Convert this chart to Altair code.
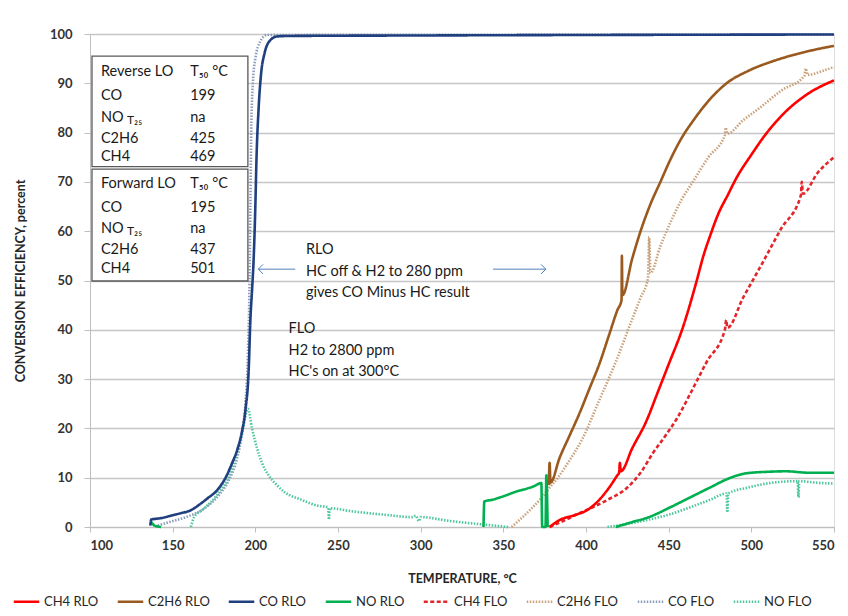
import altair as alt
import pandas as pd

# ---------------- data ----------------
SERIES = ["CH4 RLO", "C2H6 RLO", "CO RLO", "NO RLO", "CH4 FLO", "C2H6 FLO", "CO FLO", "NO FLO"]
COLORS = ["#FF0000", "#9A5A1F", "#1F3F7F", "#00B050", "#E3262B", "#C9A27C", "#8C9CBC", "#4FC79C"]
DASHES = [[1, 0], [1, 0], [1, 0], [1, 0], [4, 2.5], [1.5, 1.5], [1.5, 1.5], [1.5, 1.5]]
WIDTHS = [2.6, 2.6, 2.6, 2.6, 1.8, 1.2, 1.2, 1.2]

CO_RLO_T = [136.5, 137, 143, 150, 155, 161, 166, 171, 177, 182, 186, 189, 192, 194, 196, 197, 198, 199, 200, 200.7, 202, 203.5, 205.5, 208, 213, 220, 300, 400, 550]
CO_RLO_V = [0.3, 1.5, 1.8, 2.4, 2.8, 3.4, 4.5, 5.8, 7.5, 10, 13, 15.6, 19.5, 23.7, 32, 42, 48, 54.5, 65, 74.7, 85, 92, 96, 98.3, 99.5, 99.6, 99.7, 99.8, 99.9]

CO_FLO_T = [141, 148, 158, 168, 178, 184, 189, 192, 194, 195.5, 196.5, 197, 197.5, 198.5, 200, 203, 207, 550]
CO_FLO_V = [0.3, 1, 2, 3.5, 6.5, 9.5, 14, 19, 25, 35, 50, 65, 80, 90, 95, 98.5, 99.8, 99.9]

# None = no reading (line hidden on the axis there)
NO_RLO_T = [137, 139, 143, 200, 338, 338.5, 343, 348, 358, 368, 373, 373.5, 375.5, 376, 376.8, 400, 418, 428, 438, 451, 463, 475, 486, 497, 510, 521, 535, 550]
NO_RLO_V = [1, 0.3, 0, None, 0, 5.2, 5.5, 6, 7.2, 8.2, 8.9, 0, 0, 10.5, 0, None, 0, 1, 2, 4, 6, 8, 9.8, 10.9, 11.2, 11.3, 11, 11]

NO_FLO_T = [161, 163, 168, 173, 178, 183, 188, 192, 195.5, 198, 201, 204, 208, 213, 218, 228, 238, 244, 244.5, 245, 258, 278, 295, 297, 299, 300, 318, 338, 353, 380, 413, 428, 438, 450, 463, 475, 485, 485.5, 486, 498, 513, 528, 528.5, 529, 539, 550]
NO_FLO_V = [0, 2, 3.5, 5, 7, 9.5, 14, 19, 24, 20, 16, 13, 10.5, 8.5, 7, 5.5, 4.3, 4, 1.5, 3.8, 3.2, 2.5, 2, 2.3, 1.2, 2, 1.2, 0.5, 0, None, 0, 0.8, 1.5, 2.5, 4, 5.5, 6.8, 3, 6.8, 8, 9, 9.3, 6, 9.3, 9, 8.8]

C2H6_RLO_T = [377.5, 378, 378.5, 384, 390, 396, 402, 408, 414, 419, 421.5, 421.7, 422, 428, 433, 439, 445, 451, 458, 465, 473, 485, 498, 515, 533, 550]
C2H6_RLO_V = [8.5, 13, 9, 14, 18.5, 23, 28, 33, 39, 44, 46, 55, 47, 54.5, 60, 65.5, 70, 74.5, 79, 82.5, 86, 90, 92.5, 94.7, 96.4, 97.6]

C2H6_FLO_T = [355, 360, 366, 372, 378, 383, 390, 398, 408, 418, 426.6, 433, 437.5, 438.2, 439, 445, 450.7, 458, 464.6, 474, 484, 484.5, 485.5, 495, 505, 518, 532, 533, 534, 543, 550]
C2H6_FLO_V = [0, 1.5, 3.4, 5.5, 8, 10, 13.5, 18, 25.7, 33.5, 41, 46.5, 50.5, 58.8, 51.5, 57, 61.5, 66.5, 70, 75, 79.5, 81, 79.8, 82.5, 85, 88.5, 91.5, 93, 91.7, 92.5, 93.3]

CH4_RLO_T = [378, 384, 393, 400.6, 408, 414, 419, 420, 420.5, 421, 428, 436.8, 443, 450, 458.6, 467, 471, 475, 480, 486, 491, 500, 509, 520, 533, 550]
CH4_RLO_V = [0, 1.4, 2.4, 3.4, 5.5, 8, 10.5, 11, 13, 11.3, 16, 21.7, 27, 33, 40.5, 50, 55, 59, 63.5, 67.5, 70.8, 75.5, 79.8, 84, 87.6, 90.6]

CH4_FLO_T = [378, 388, 396, 404, 413, 425, 433, 440.5, 448, 455, 463, 473, 484, 484.8, 485.5, 495, 505, 518, 530, 530.5, 531.2, 540, 550]
CH4_FLO_V = [0, 1.5, 2.8, 4, 5.5, 8, 11, 15, 18.5, 22, 27, 33.5, 40, 42, 40.4, 46.5, 52.5, 60.5, 67.3, 70, 67.6, 71.8, 75]

X_TICKS = [100, 150, 200, 250, 300, 350, 400, 450, 500, 550]
Y_TICKS = [0, 10, 20, 30, 40, 50, 60, 70, 80, 90, 100]

# table boxes
BOX_T1 = [101.2, 101.2]
BOX_T2 = [195.5, 195.5]
BOX_V1 = [95.5, 72.6]
BOX_V2 = [73.1, 49.9]

TABLE_LABELS = ["Reverse LO", "CO", "NO", "C2H6", "CH4", "Forward LO", "CO", "NO", "C2H6", "CH4"]
TABLE_VALUES = ["T\u2085\u2080 \u00b0C", "199", "na", "425", "469", "T\u2085\u2080 \u00b0C", "195", "na", "437", "501"]
TABLE_ROWS_V = [92.3, 87.5, 83.0, 78.7, 75.0, 69.6, 64.8, 60.4, 56.2, 52.3]
TABLE_LABEL_T = 106.6
TABLE_VALUE_T = 160.6
SUB_TEXT = ["T\u2082\u2085", "T\u2082\u2085"]
SUB_T = [122.4, 122.4]
SUB_V = [82.6, 60.0]

NOTE_RLO = ["RLO", "HC off & H2 to 280 ppm", "gives CO Minus HC result"]
NOTE_RLO_V = [56.2, 51.7, 47.5]
NOTE_RLO_T = 230.6
NOTE_FLO = ["FLO", "H2 to 2800 ppm", "HC's on at 300\u00b0C"]
NOTE_FLO_V = [40.2, 35.7, 31.4]
NOTE_FLO_T = 220.1

ARROW_T = [224.1, 343.8]
ARROW_T2 = [201.8, 375.7]
ARROW_V = [52.3, 52.3]
ARROW_DIR = ["left", "right"]

FONT = "Lato"

# ---------------- build tables ----------------
series_data = {
    "CH4 FLO": (CH4_FLO_T, CH4_FLO_V),
    "C2H6 FLO": (C2H6_FLO_T, C2H6_FLO_V),
    "CO FLO": (CO_FLO_T, CO_FLO_V),
    "NO FLO": (NO_FLO_T, NO_FLO_V),
    "NO RLO": (NO_RLO_T, NO_RLO_V),
    "CH4 RLO": (CH4_RLO_T, CH4_RLO_V),
    "C2H6 RLO": (C2H6_RLO_T, C2H6_RLO_V),
    "CO RLO": (CO_RLO_T, CO_RLO_V),
}
rows = []
for name, (ts, vs) in series_data.items():
    for i, (t, v) in enumerate(zip(ts, vs)):
        rows.append({"series": name, "T": t, "V": v, "i": i})
df = pd.DataFrame(rows)

xscale = alt.Scale(domain=[100, 550], nice=False, zero=False)
yscale = alt.Scale(domain=[0, 100], nice=False)

x_enc = alt.X(
    "T:Q", scale=xscale,
    axis=alt.Axis(
        values=X_TICKS, format="d", grid=False, title="TEMPERATURE, \u00b0C",
        labelFont=FONT, labelFontSize=13, labelFontWeight="bold", labelColor="#333333",
        tickColor="#BFBFBF", tickSize=5, domainColor="#BFBFBF", labelPadding=7,
        titleFont=FONT, titleFontSize=12.5, titleFontWeight="bold", titleColor="#262626",
        titleX=372, titleY=51, titleBaseline="middle",
    ),
)
y_enc = alt.Y(
    "V:Q", scale=yscale,
    axis=alt.Axis(
        values=Y_TICKS, format="d", grid=True, gridColor="#C6C6C6", gridWidth=1.5,
        title="CONVERSION EFFICIENCY, percent",
        labelFont=FONT, labelFontSize=13, labelFontWeight="bold", labelColor="#333333",
        tickColor="#BFBFBF", tickSize=6, domainColor="#BFBFBF", labelPadding=12,
        titleFont=FONT, titleFontSize=12.5, titleFontWeight="bold", titleColor="#262626",
        titleX=-70, titleY=246.5, titleAngle=-90, titleBaseline="middle", titleAlign="center",
    ),
)

legend = alt.Legend(
    title=None, orient="none", legendX=-78, legendY=553, direction="horizontal",
    symbolType="stroke", symbolSize=650, labelFont=FONT, labelFontSize=13,
    labelColor="#262626", columnPadding=13, labelOffset=3,
)

lines = alt.Chart(df).mark_line(strokeJoin="round", interpolate="monotone").encode(
    x=x_enc,
    y=y_enc,
    color=alt.Color("series:N", scale=alt.Scale(domain=SERIES, range=COLORS), legend=legend),
    strokeDash=alt.StrokeDash("series:N", scale=alt.Scale(domain=SERIES, range=DASHES), legend=legend),
    strokeWidth=alt.StrokeWidth("series:N", scale=alt.Scale(domain=SERIES, range=WIDTHS), legend=legend),
    order=alt.Order("i:Q"),
)

box_df = pd.DataFrame({"t1": BOX_T1, "t2": BOX_T2, "v1": BOX_V1, "v2": BOX_V2})
boxes = alt.Chart(box_df).mark_rect(fill="white", stroke="#595959", strokeWidth=1.3).encode(
    x=alt.X("t1:Q", scale=xscale), x2="t2:Q", y=alt.Y("v1:Q", scale=yscale), y2="v2:Q"
)

lab_df = pd.DataFrame({"T": [TABLE_LABEL_T] * len(TABLE_LABELS), "V": TABLE_ROWS_V, "txt": TABLE_LABELS})
val_df = pd.DataFrame({"T": [TABLE_VALUE_T] * len(TABLE_VALUES), "V": TABLE_ROWS_V, "txt": TABLE_VALUES})
sub_df = pd.DataFrame({"T": SUB_T, "V": SUB_V, "txt": SUB_TEXT})

def text_layer(d, size, align="left"):
    return alt.Chart(d).mark_text(
        align=align, baseline="middle", font=FONT, fontSize=size, color="#1A1A1A"
    ).encode(x=alt.X("T:Q", scale=xscale), y=alt.Y("V:Q", scale=yscale), text="txt:N")

note_df = pd.DataFrame({
    "T": [NOTE_RLO_T] * 3 + [NOTE_FLO_T] * 3,
    "V": NOTE_RLO_V + NOTE_FLO_V,
    "txt": NOTE_RLO + NOTE_FLO,
})

arrow_df = pd.DataFrame({"T": ARROW_T, "T2": ARROW_T2, "V": ARROW_V, "dir": ARROW_DIR})
arrow_lines = alt.Chart(arrow_df).mark_rule(color="#4F81BD", strokeWidth=1).encode(
    x=alt.X("T:Q", scale=xscale), x2="T2:Q", y=alt.Y("V:Q", scale=yscale)
)
head_r = alt.Chart(arrow_df[arrow_df["dir"] == "right"]).mark_point(
    shape="M -1 -1 L 0 0 L -1 1", size=90, filled=False, color="#4F81BD", strokeWidth=1, opacity=1
).encode(x=alt.X("T2:Q", scale=xscale), y=alt.Y("V:Q", scale=yscale))
head_l = alt.Chart(arrow_df[arrow_df["dir"] == "left"]).mark_point(
    shape="M 1 -1 L 0 0 L 1 1", size=90, filled=False, color="#4F81BD", strokeWidth=1, opacity=1
).encode(x=alt.X("T2:Q", scale=xscale), y=alt.Y("V:Q", scale=yscale))

chart = alt.layer(
    lines,
    boxes,
    text_layer(lab_df, 14.5),
    text_layer(val_df, 14.5),
    text_layer(sub_df, 12),
    text_layer(note_df, 14.5),
    arrow_lines,
    head_r,
    head_l,
).properties(
    width=744, height=493,
    autosize=alt.AutoSizeParams(type="none"),
    padding={"left": 82, "top": 26, "right": 6, "bottom": 81},
).configure_view(stroke=None).configure(background="white")

chart.save("out.html", embed_options={"renderer": "svg", "actions": False})
